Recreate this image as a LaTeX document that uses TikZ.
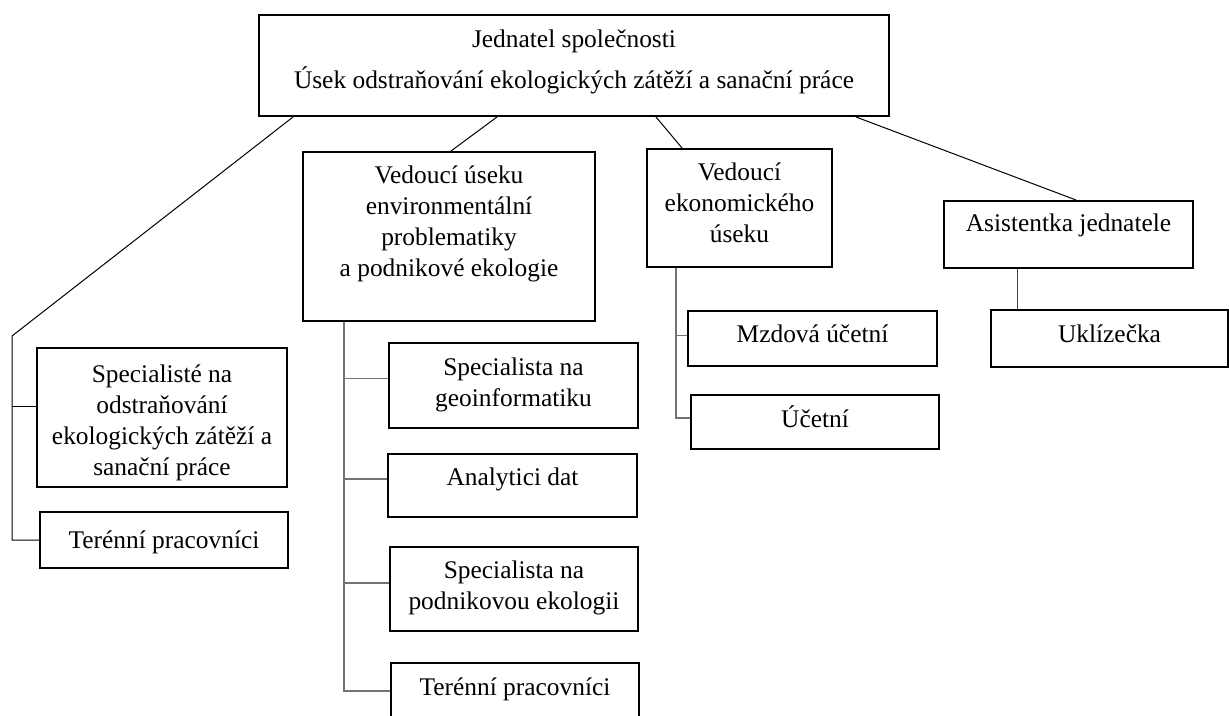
\documentclass[tikz,border=0pt]{standalone}
\usepackage{fontspec}
\setmainfont{Liberation Serif}
\usetikzlibrary{fit,calc}
\begin{document}
\begin{tikzpicture}[x=0.5pt,y=-0.5pt,
  box/.style={draw=black, line width=1pt, rectangle, inner sep=0pt},
  txt/.style={font=\fontsize{12.7}{15.5}\selectfont, anchor=base, inner sep=0pt, align=center},
  conn/.style={line width=0.5pt, draw=black},
  gconn/.style={line width=0.6pt, draw=black!55}]
\clip (0,0) rectangle (1229,716);
\fill[white] (0,0) rectangle (1229,716);
% boxes
\node[box, fit={(259,15) (889,116)}] (top) {};
\node[box, fit={(303,152) (595,321)}] (env) {};
\node[box, fit={(647,149) (832,267)}] (eko) {};
\node[box, fit={(944,201) (1193,268)}] (asi) {};
\node[box, fit={(991,310) (1228,367)}] (ukl) {};
\node[box, fit={(37,348) (287,487)}] (spec) {};
\node[box, fit={(40,512) (288,568)}] (terL) {};
\node[box, fit={(389,343) (638,428)}] (geo) {};
\node[box, fit={(388,454) (637,517)}] (ana) {};
\node[box, fit={(390,547) (638,631)}] (pod) {};
\node[box, fit={(391,663) (639,719)}] (ter2) {};
\node[box, fit={(688,311) (937,366)}] (mzd) {};
\node[box, fit={(691,395) (939,449)}] (uce) {};
% texts (anchor base = baseline of the last line)
\node[txt] (t1) at (574,48) {Jednatel společnosti};
\node[txt] (t2) at (574,89) {Úsek odstraňování ekologických zátěží a sanační práce};
\node[txt] (tenv) at (449,277) {Vedoucí úseku\\environmentální\\problematiky\\a podnikové ekologie};
\node[txt] (teko) at (739.5,243) {Vedoucí\\ekonomického\\úseku};
\node[txt] (tasi) at (1068.5,232) {Asistentka jednatele};
\node[txt] (tukl) at (1109.5,343) {Uklízečka};
\node[txt] (tspec) at (162,475) {Specialisté na\\odstraňování\\ekologických zátěží a\\sanační práce};
\node[txt] (tterL) at (164,548) {Terénní pracovníci};
\node[txt] (tgeo) at (513.5,406) {Specialista na\\geoinformatiku};
\node[txt] (tana) at (512.5,485) {Analytici dat};
\node[txt] (tpod) at (514,609) {Specialista na\\podnikovou ekologii};
\node[txt] (tter2) at (515,695) {Terénní pracovníci};
\node[txt] (tmzd) at (812.5,342) {Mzdová účetní};
\node[txt] (tuce) at (815,427) {Účetní};
% junction coordinates
\coordinate (lj) at (12,336);
\coordinate (specb) at ($(spec.north west)!0.42!(spec.south west)$);
\coordinate (ev) at ($(env.south west)+(42,0)$);
\coordinate (geob) at ($(geo.north west)!0.42!(geo.south west)$);
\coordinate (anab) at ($(ana.north west)!0.40!(ana.south west)$);
\coordinate (podb) at ($(pod.north west)!0.43!(pod.south west)$);
\coordinate (ek) at ($(eko.south west)+(30,0)$);
\coordinate (mzdb) at ($(mzd.north west)!0.45!(mzd.south west)$);
\coordinate (uceb) at ($(uce.north west)!0.43!(uce.south west)$);
\coordinate (ab) at ($(asi.south west)+(74,0)$);
% connectors from top
\draw[conn] ($(top.south west)+(35,0)$) -- (lj) -- (lj |- terL.west) -- (terL.west);
\draw[conn] (lj |- specb) -- (specb);
\draw[conn] ($(top.south west)+(239,0)$) -- ($(env.north west)+(149,0)$);
\draw[conn] ($(top.south west)+(398,0)$) -- ($(eko.north west)+(36,0)$);
\draw[conn] ($(top.south west)+(598,0)$) -- ($(asi.north west)+(133,0)$);
% env subtree
\draw[gconn] (ev) -- (ev |- ter2.west) -- (ter2.west);
\draw[gconn] (ev |- geob) -- (geob);
\draw[gconn] (ev |- anab) -- (anab);
\draw[gconn] (ev |- podb) -- (podb);
% eko subtree
\draw[gconn] (ek) -- (ek |- uceb) -- (uceb);
\draw[gconn] (ek |- mzdb) -- (mzdb);
% asistentka
\draw[conn, draw=black!75] (ab) -- (ab |- ukl.north);
\end{tikzpicture}
\end{document}
